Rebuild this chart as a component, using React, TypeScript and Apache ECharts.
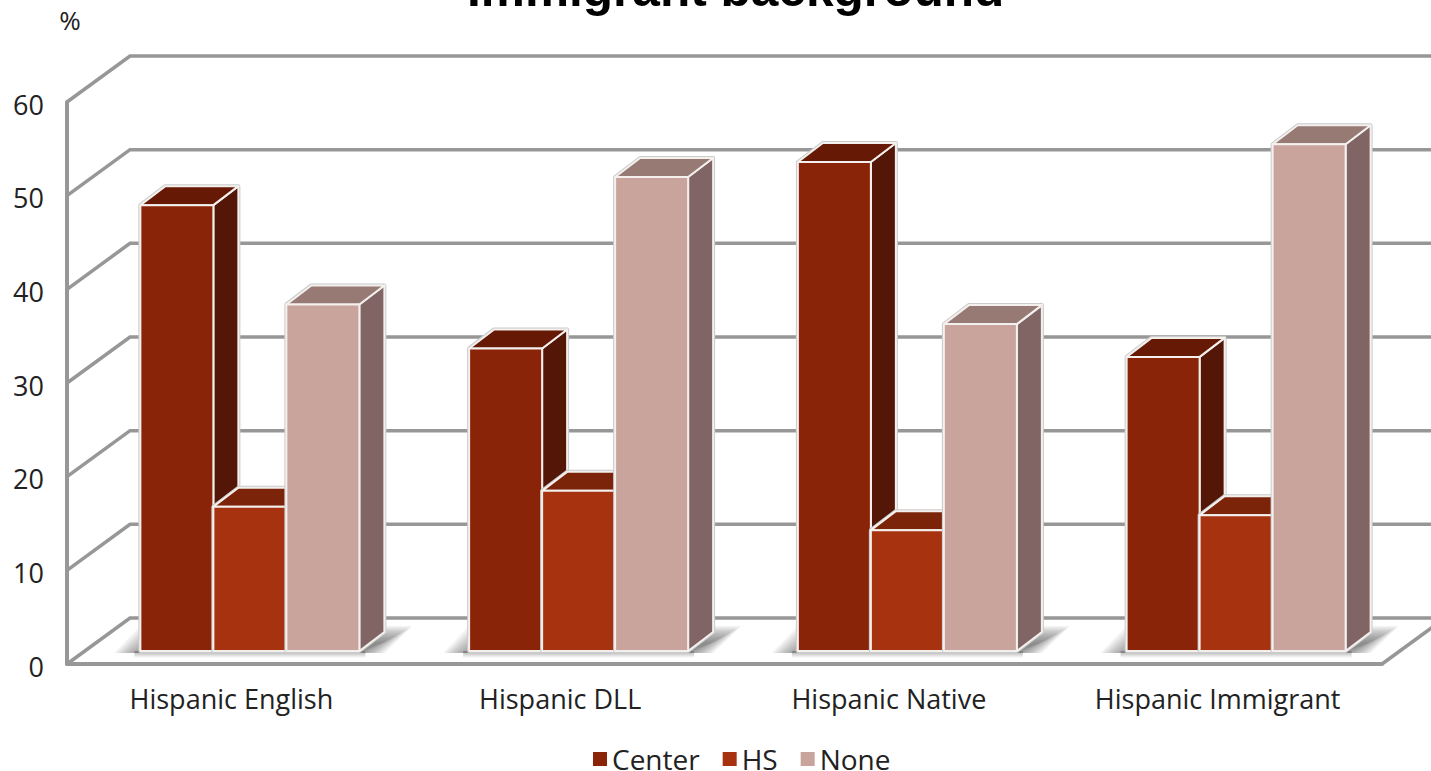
import React, { useEffect, useRef } from "react";
import * as echarts from "echarts";

const categories = ["Hispanic English", "Hispanic DLL", "Hispanic Native", "Hispanic Immigrant"];
const centerValues = [47.6, 32.3, 52.2, 31.4];
const hsValues = [15.4, 17.1, 12.9, 14.5];
const noneValues = [37.0, 50.6, 34.9, 54.1];
const yTicks = [0, 10, 20, 30, 40, 50, 60];

const FONT = "'Open Sans', sans-serif";
const TEXT = "#222222";
const WALL = "#979797";

// Projection of the box: back wall offset, bar base offset and bar depth, in pixels.
const WALL_DX = 63;
const WALL_DY = -46;
const BASE_DX = 18.5;
const BASE_DY = -13;
const DEPTH_DX = 25;
const DEPTH_DY = -19;
const BAR_SHARE = 73 / 328.75;
const SHADOW_LAYERS = 13;

const palettes = [
  { front: "#8A2409", top: "#661904", side: "#541607" },
  { front: "#A63210", top: "#7C240A", side: "#651C08" },
  { front: "#C9A49D", top: "#987A75", side: "#816564" },
];

const poly = (points: number[][], style: object) => ({
  type: "polygon",
  shape: { points },
  style,
});

function renderWalls(params: any, api: any) {
  const cs = params.coordSys;
  const y = api.coord([0, api.value(1)])[1];
  const points = [
    [cs.x, y],
    [cs.x + WALL_DX, y + WALL_DY],
    [cs.x + cs.width + WALL_DX, y + WALL_DY],
  ];
  const children: any[] = [
    { type: "polyline", shape: { points }, style: { fill: "none", stroke: WALL, lineWidth: 3.5 } },
  ];
  if (api.value(1) === 0) {
    children.push({
      type: "line",
      shape: { x1: cs.x + cs.width, y1: y, x2: cs.x + cs.width + WALL_DX, y2: y + WALL_DY },
      style: { stroke: WALL, lineWidth: 3.5 },
    });
  }
  return { type: "group", children };
}

// Soft shadow on the floor around each cluster: nested translucent layers fade out at the edge.
function renderShadow(_params: any, api: any) {
  const [cx, y0] = api.coord([api.value(0), 0]);
  const w = api.size([1, 0])[0] * BAR_SHARE;
  const left = cx + BASE_DX - 1.5 * w;
  const right = cx + BASE_DX + 1.5 * w;
  const base = y0 + BASE_DY;
  const children: any[] = [];
  for (let k = 0; k < SHADOW_LAYERS; k++) {
    const inset = k * 2.4;
    const rise = k * 1.4;
    children.push(
      poly(
        [
          [left - 26 + inset, base + 2],
          [left + inset, base - 25 + rise],
          [right + 53 - inset, base - 25 + rise],
          [right + 25 - inset, base + 2],
        ],
        { fill: "rgba(85,85,85,0.075)" }
      )
    );
  }
  children.push({
    type: "rect",
    shape: { x: left - 6, y: base, width: right - left + 12, height: 7 },
    style: {
      fill: {
        type: "linear",
        x: 0,
        y: 0,
        x2: 0,
        y2: 1,
        colorStops: [
          { offset: 0, color: "rgba(90,90,90,0.5)" },
          { offset: 1, color: "rgba(90,90,90,0)" },
        ],
      },
    },
  });
  return { type: "group", children };
}

const renderBar = (slot: number) => (_params: any, api: any) => {
  const [cx, y] = api.coord([api.value(0), api.value(1)]);
  const y0 = api.coord([api.value(0), 0])[1];
  const w = api.size([1, 0])[0] * BAR_SHARE;
  const x1 = cx + BASE_DX + (slot - 1.5) * w;
  const x2 = x1 + w;
  const top = y + BASE_DY;
  const bottom = y0 + BASE_DY;
  const colors = palettes[slot];
  const edge = { stroke: "#F4F0EE", lineWidth: 2, lineJoin: "round" };
  const outline = [
    [x1, bottom],
    [x1, top],
    [x1 + DEPTH_DX, top + DEPTH_DY],
    [x2 + DEPTH_DX, top + DEPTH_DY],
    [x2 + DEPTH_DX, bottom + DEPTH_DY],
    [x2, bottom],
  ];
  return {
    type: "group",
    children: [
      poly(outline, { fill: "none", stroke: "#CBCBCB", lineWidth: 4, lineJoin: "round" }),
      poly(
        [
          [x2, top],
          [x2 + DEPTH_DX, top + DEPTH_DY],
          [x2 + DEPTH_DX, bottom + DEPTH_DY],
          [x2, bottom],
        ],
        { fill: colors.side, ...edge }
      ),
      poly(
        [
          [x1, top],
          [x1 + DEPTH_DX, top + DEPTH_DY],
          [x2 + DEPTH_DX, top + DEPTH_DY],
          [x2, top],
        ],
        { fill: colors.top, ...edge }
      ),
      {
        type: "rect",
        shape: { x: x1, y: top, width: w, height: bottom - top },
        style: { fill: colors.front, ...edge },
      },
    ],
  };
};

const barSeries = (name: string, values: number[], slot: number) => ({
  name,
  type: "custom",
  renderItem: renderBar(slot),
  itemStyle: { color: palettes[slot].front },
  encode: { x: 0, y: 1 },
  data: values.map((v, i) => [i, v]),
  z: 5,
});

export default function App() {
  const ref = useRef<HTMLDivElement>(null);

  useEffect(() => {
    const chart = echarts.init(ref.current!, null, { renderer: "svg" });
    chart.setOption({
      animation: false,
      backgroundColor: "#FFFFFF",
      title: {
        text: "Immigrant background",
        left: 467,
        top: -36,
        padding: 0,
        textStyle: { fontFamily: "'Liberation Sans', Arial, sans-serif", fontWeight: "bold", fontSize: 49.6, color: "#000000" },
      },
      legend: {
        data: ["Center", "HS", "None"],
        left: 593,
        top: 745,
        padding: 0,
        itemWidth: 14,
        itemHeight: 14,
        itemGap: 23,
        icon: "rect",
        textStyle: { fontFamily: FONT, fontSize: 28, lineHeight: 22, color: TEXT },
      },
      grid: { left: 67, right: 49, top: 102, bottom: 107 },
      xAxis: {
        type: "category",
        data: categories,
        axisTick: { show: false },
        axisLine: { lineStyle: { color: WALL, width: 4 } },
        axisLabel: { fontFamily: FONT, fontSize: 27, color: TEXT, margin: 21 },
      },
      yAxis: {
        type: "value",
        min: 0,
        max: 60,
        interval: 10,
        name: "%",
        nameLocation: "end",
        nameGap: 69,
        nameTextStyle: { fontFamily: FONT, fontSize: 26, color: TEXT, padding: [0, 0, 0, 6] },
        axisTick: { show: false },
        splitLine: { show: false },
        axisLine: { show: true, lineStyle: { color: WALL, width: 4 } },
        axisLabel: {
          fontFamily: FONT,
          fontSize: 27,
          color: TEXT,
          margin: 23,
          verticalAlign: "top",
          lineHeight: 4,
        },
      },
      series: [
        {
          type: "custom",
          renderItem: renderWalls,
          encode: { x: 0, y: 1 },
          data: yTicks.map((v) => [0, v]),
          silent: true,
          z: 1,
        },
        {
          type: "custom",
          renderItem: renderShadow,
          encode: { x: 0 },
          data: categories.map((_, i) => [i]),
          silent: true,
          z: 2,
        },
        barSeries("Center", centerValues, 0),
        barSeries("HS", hsValues, 1),
        barSeries("None", noneValues, 2),
      ],
    });
    return () => chart.dispose();
  }, []);

  return <div ref={ref} style={{ position: "fixed", left: 0, top: 0, width: 1431, height: 771 }} />;
}
